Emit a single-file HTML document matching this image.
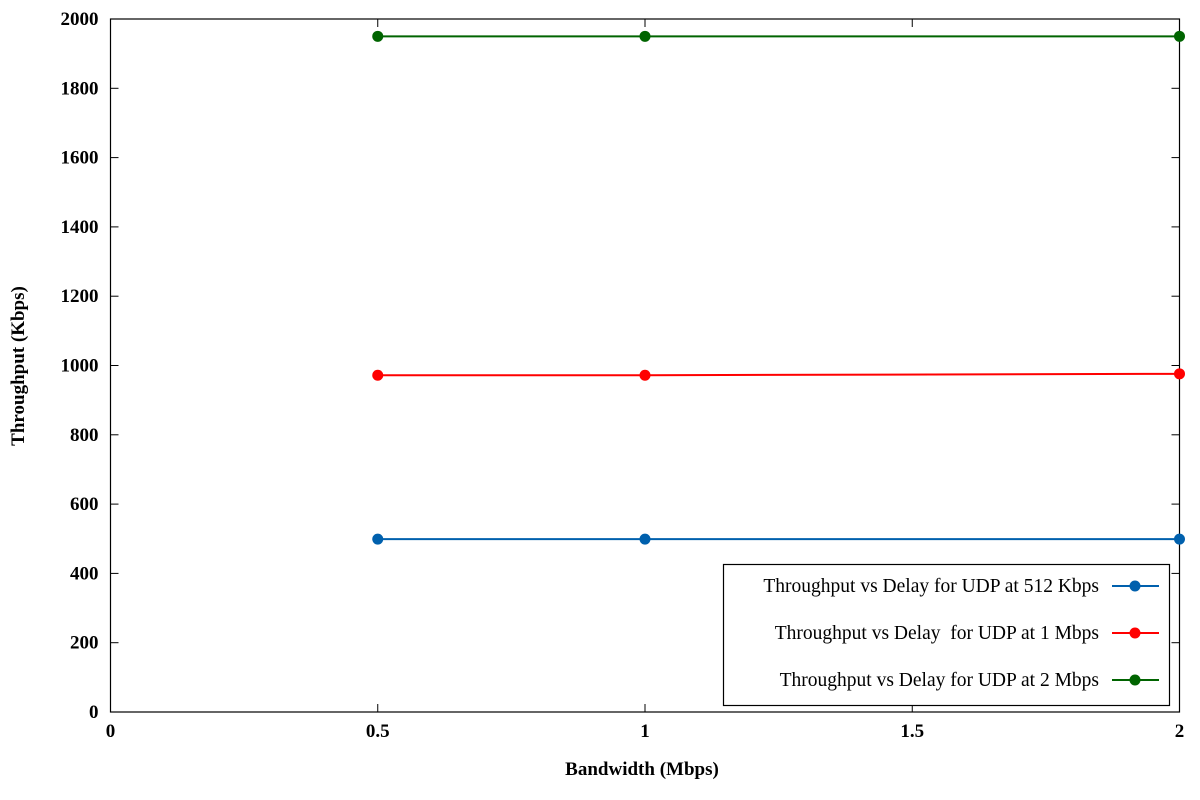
<!DOCTYPE html>
<html><head><meta charset="utf-8"><style>
body{margin:0;background:#fff}
svg{display:block;font-family:"Liberation Serif",serif}
</style></head><body>
<svg id="chart" width="1200" height="800">
<rect x="0" y="0" width="1200" height="800" fill="#fff"/>
<g id="grid"></g>
<g id="series"></g>
<text x="642" y="775" text-anchor="middle" font-size="19" font-weight="bold">Bandwidth (Mbps)</text>
<text transform="translate(24,366) rotate(-90)" text-anchor="middle" font-size="19" font-weight="bold">Throughput (Kbps)</text>
<g id="legend"></g>
</svg>
<script>
const xTicks=[0,0.5,1,1.5,2];
const yTicks=[0,200,400,600,800,1000,1200,1400,1600,1800,2000];
const xValues=[0.5,1,2];
const seriesNames=["Throughput vs Delay for UDP at 512 Kbps","Throughput vs Delay  for UDP at 1 Mbps","Throughput vs Delay for UDP at 2 Mbps"];
const seriesColors=["#0060ad","#ff0000","#006400"];
const s512=[499,499,499];
const s1m=[972,972,976];
const s2m=[1950,1950,1950];
const allSeries=[s512,s1m,s2m];

const L=110.5,R=1179.5,T=19,B=712;
const X=v=>L+(v-0)/(2-0)*(R-L);
const Y=v=>B-(v-0)/(2000-0)*(B-T);
const NS="http://www.w3.org/2000/svg";
function mk(tag,attrs,parent){const e=document.createElementNS(NS,tag);for(const k in attrs)e.setAttribute(k,attrs[k]);parent.appendChild(e);return e;}
const g=document.getElementById('grid');
yTicks.forEach(v=>{
  const y=Y(v);
  const t=mk('line',{x1:L,x2:L+8,y1:y,y2:y,stroke:'#000','stroke-width':1},g);
  
  
  const t2=mk('line',{x1:R-8,x2:R,y1:y,y2:y,stroke:'#000','stroke-width':1},g);
  
  
  const tx=mk('text',{x:L-12,y:y+6,'text-anchor':'end','font-size':19,'font-weight':'bold'},g);
  tx.textContent=v;
  
  
});
xTicks.forEach(v=>{
  const x=X(v);
  const t=mk('line',{x1:x,x2:x,y1:B,y2:B-8,stroke:'#000','stroke-width':1},g);
  
  
  const t2=mk('line',{x1:x,x2:x,y1:T,y2:T+8,stroke:'#000','stroke-width':1},g);
  
  
  const tx=mk('text',{x:x,y:B+25,'text-anchor':'middle','font-size':19,'font-weight':'bold'},g);
  tx.textContent=v;
  
  
});
const frame=mk('rect',{x:L,y:T,width:R-L,height:B-T,fill:'none',stroke:'#000','stroke-width':1.2},g);



const sg=document.getElementById('series');
allSeries.forEach((vals,i)=>{
  const pts=vals.map((v,j)=>X(xValues[j])+','+Y(v)).join(' ');
  const pl=mk('polyline',{points:pts,fill:'none',stroke:seriesColors[i],'stroke-width':2},sg);
  
  
  vals.forEach((v,j)=>{
    const c=mk('circle',{cx:X(xValues[j]),cy:Y(v),r:5.5,fill:seriesColors[i]},sg);
    
    
  });
});

const lg=document.getElementById('legend');
const box=mk('rect',{x:723.5,y:564.5,width:446,height:141,fill:'#fff',stroke:'#000','stroke-width':1.2},lg);


seriesNames.forEach((n,i)=>{
  const y=586+i*47;
  const tx=mk('text',{x:1099,y:y+6,'text-anchor':'end','font-size':19.5,style:'white-space:pre'},lg);
  tx.textContent=n;
  
  
  const ln=mk('line',{x1:1112,x2:1159,y1:y,y2:y,stroke:seriesColors[i],'stroke-width':2},lg);
  
  
  const c=mk('circle',{cx:1135,cy:y,r:5.5,fill:seriesColors[i]},lg);
  
  
});
</script>
</body></html>
